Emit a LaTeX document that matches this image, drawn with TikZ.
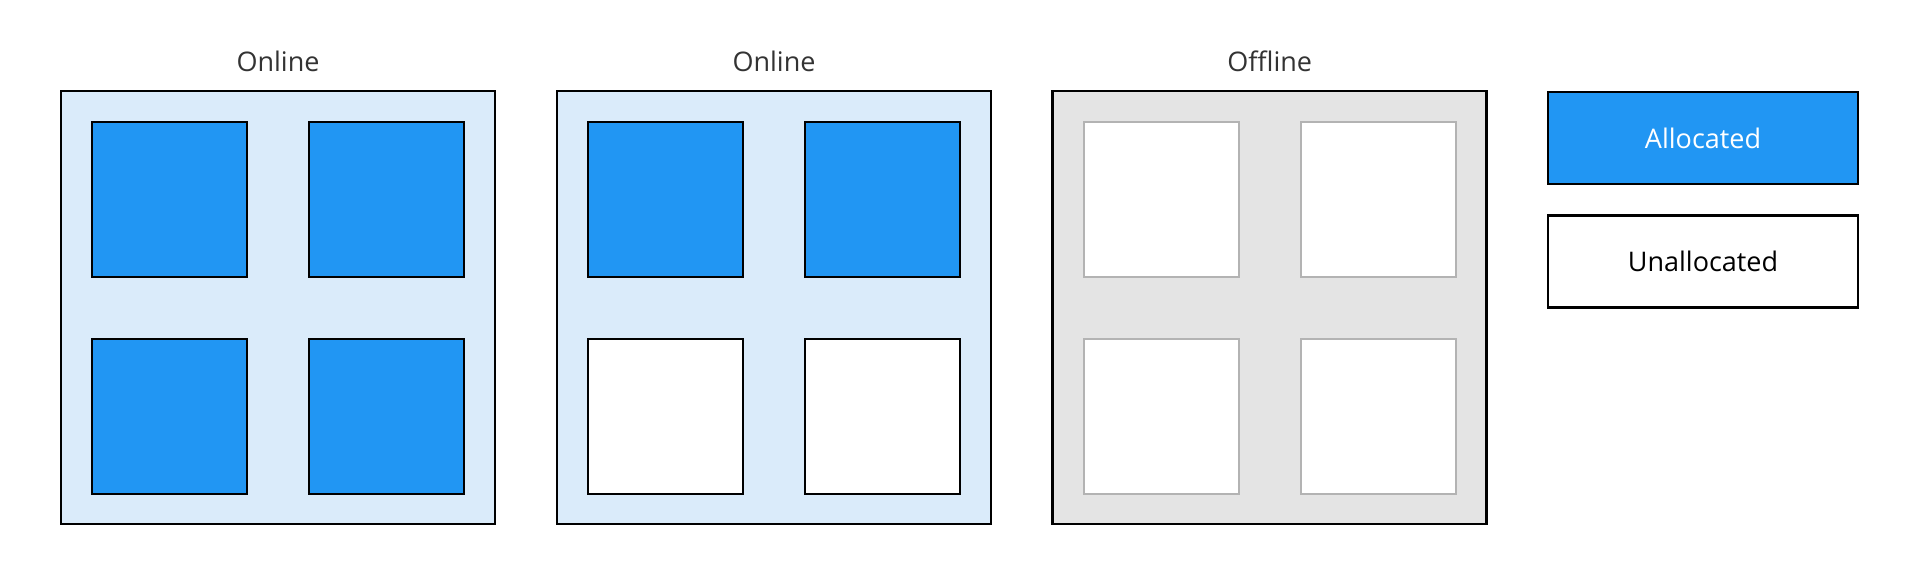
\documentclass[tikz,border=0pt]{standalone}
\usepackage{fontspec}
\setmainfont{Open Sans}
\definecolor{allocblue}{HTML}{2196F3}
\definecolor{onlinebg}{HTML}{DAEBFA}
\definecolor{offlinebg}{HTML}{E4E4E4}
\definecolor{offlineedge}{HTML}{B3B3B3}
\definecolor{titlegray}{HTML}{333333}
\begin{document}
\begin{tikzpicture}[x=1pt, y=-1pt,
        panel/.style={draw=black, line width=2.5pt, minimum width=434pt, minimum height=433pt, inner sep=0pt},
        slot/.style={draw=black, line width=2.5pt, minimum size=155pt, inner sep=0pt},
        used/.style={slot, fill=allocblue},
        free/.style={slot, fill=white},
        idle/.style={slot, draw=offlineedge, line width=2pt, fill=white},
        title/.style={text=titlegray, anchor=base, font=\fontsize{27}{32}\selectfont},
        legend/.style={draw=black, line width=2.5pt, minimum width=310pt, minimum height=92pt, inner sep=0pt, font=\fontsize{27}{32}\selectfont}]
            \useasboundingbox (0,0) rectangle (1920,587);
            % servers
            \node[panel, fill=onlinebg] (p1) at (278,307.5) {};
            \node[panel, fill=onlinebg] (p2) at (774,307.5) {};
            \node[panel, fill=offlinebg] (p3) at (1269.7,307.5) {};
            \node[title] (t1) at (278,71) {Online};
            \node[title] (t2) at (774,71) {Online};
            \node[title] (t3) at (1269.7,71) {Offline};
            % slots
            \node[used] (a1) at (169.5,199.5) {};
            \node[used] (a2) at (386.5,199.5) {};
            \node[used] (a3) at (169.5,416.5) {};
            \node[used] (a4) at (386.5,416.5) {};
            \node[used] (b1) at (665.5,199.5) {};
            \node[used] (b2) at (882.5,199.5) {};
            \node[free] (b3) at (665.5,416.5) {};
            \node[free] (b4) at (882.5,416.5) {};
            \node[idle] (c1) at (1161.2,199.5) {};
            \node[idle] (c2) at (1378.2,199.5) {};
            \node[idle] (c3) at (1161.2,416.5) {};
            \node[idle] (c4) at (1378.2,416.5) {};
            % legend
            \node[legend, fill=allocblue, text=white] (la) at (1703,138) {Allocated};
            \node[legend, fill=white] (lu) at (1703,261.5) {Unallocated};
        \end{tikzpicture}
\end{document}
